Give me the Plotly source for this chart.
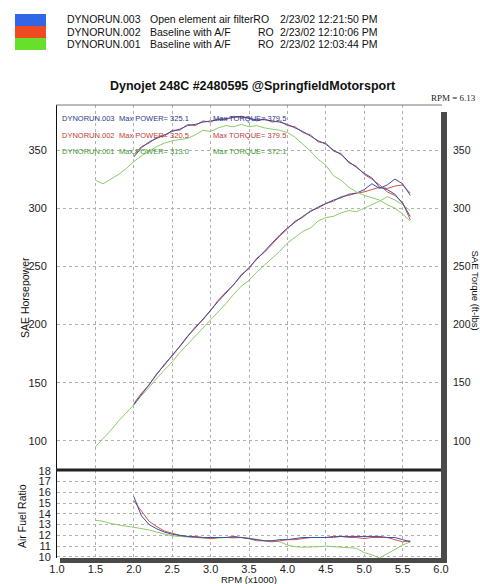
import plotly.graph_objects as go

# ---------------- data ----------------
rpm_br = [2.0, 2.1, 2.2, 2.3, 2.4, 2.5, 2.6, 2.7, 2.8, 2.9, 3.0, 3.1, 3.2, 3.3, 3.4, 3.5, 3.6, 3.7, 3.8,
          3.9, 4.0, 4.1, 4.2, 4.3, 4.4, 4.5, 4.6, 4.7, 4.8, 4.9, 5.0, 5.1, 5.2, 5.3, 5.4, 5.5, 5.6]
rpm_g = [1.5, 1.6, 1.7, 1.8, 1.9] + rpm_br

hp_003 = [131, 140, 149, 157, 166, 173, 182, 190, 197, 205, 213, 220, 227, 235, 242, 249, 256, 263, 270,
          277, 283, 288, 293, 297, 301, 304, 307, 309, 312, 313, 316, 321, 317, 320, 325, 321, 311]
hp_002 = [132, 141, 148, 158, 165, 174, 181, 189, 198, 204, 212, 221, 228, 234, 243, 248, 257, 262, 269,
          276, 282, 289, 292, 298, 300, 304, 306, 310, 311, 313, 314, 316, 318, 317, 319, 320, 313]
hp_001 = [95, 102, 109, 117, 124, 131, 139, 146, 154, 161, 168, 176, 183, 190, 197, 204, 211, 218, 226,
          233, 238, 245, 251, 257, 263, 270, 275, 280, 283, 289, 292, 293, 296, 298, 297, 300, 303,
          306, 310, 307, 303, 298]

tq_003 = [344, 352, 357, 360, 363, 366, 368, 371, 372, 374, 375, 376, 377, 378, 379, 377, 376, 376, 375,
          374, 372, 369, 366, 362, 358, 355, 350, 346, 340, 335, 330, 326, 318, 316, 312, 304, 293]
tq_002 = [346, 353, 356, 361, 362, 367, 367, 372, 371, 375, 374, 377, 376, 379, 378, 378, 375, 377, 374,
          375, 371, 370, 365, 363, 357, 356, 349, 347, 339, 336, 329, 325, 320, 314, 311, 305, 290]
tq_001 = [324, 321, 325, 329, 334, 340, 345, 349, 353, 356, 358, 359, 360, 363, 367, 366, 369, 371, 370,
          372, 370, 371, 369, 368, 367, 365, 361, 355, 349, 342, 337, 328, 324, 318, 314, 311, 309,
          307, 303, 300, 295, 289]

afr_003 = [15.6, 13.8, 13.0, 12.6, 12.3, 12.1, 12.0, 11.9, 11.9, 11.8, 11.8, 11.8, 11.8, 11.9, 11.8,
           11.7, 11.6, 11.5, 11.5, 11.6, 11.6, 11.7, 11.8, 11.8, 11.8, 11.8, 11.9, 11.9, 11.9, 11.9,
           11.9, 11.9, 11.9, 11.8, 11.8, 11.6, 11.4]
afr_002 = [15.2, 14.3, 13.3, 12.8, 12.4, 12.2, 12.0, 11.9, 11.8, 11.8, 11.7, 11.8, 11.8, 11.8, 11.8,
           11.7, 11.5, 11.5, 11.4, 11.5, 11.6, 11.6, 11.7, 11.8, 11.8, 11.8, 11.8, 11.9, 11.8, 11.8,
           11.7, 11.8, 11.8, 11.8, 11.6, 11.4, 11.5]
afr_001 = [13.4, 13.3, 13.1, 12.95, 12.85, 12.75, 12.65, 12.5, 12.3, 12.1, 11.95, 11.9, 11.85, 11.8,
           11.75, 11.7, 11.75, 11.8, 11.75, 11.8, 11.75, 11.6, 11.5, 11.5, 11.4, 11.1, 10.95, 10.9,
           10.9, 10.95, 11.0, 10.95, 10.9, 10.85, 10.8, 10.4, 10.2, 9.9, 10.3, 10.7, 11.1, 11.4]

hp_ticks = [100, 150, 200, 250, 300, 350]
afr_ticks = [10, 11, 12, 13, 14, 15, 16, 17, 18]
rpm_ticks = [1.0, 1.5, 2.0, 2.5, 3.0, 3.5, 4.0, 4.5, 5.0, 5.5, 6.0]

runs = [
    ("DYNORUN.003", "Open element air filterRO", "", "2/23/02 12:21:50 PM", "325.1", "379.5"),
    ("DYNORUN.002", "Baseline with A/F", "RO", "2/23/02 12:10:06 PM", "320.5", "379.5"),
    ("DYNORUN.001", "Baseline with A/F", "RO", "2/23/02 12:03:44 PM", "313.0", "372.1"),
]

# ---------------- styling ----------------
W, H = 480, 584
line_cols = ["#3b4fa6", "#d4504a", "#8ccc6a"]
text_cols = ["#2a3a8c", "#c23a36", "#3f9a2f"]
swatch_cols = ["#3366e6", "#f04a22", "#66e02a"]
FONT = "Liberation Sans, Arial, sans-serif"

def px(x):
    return x / W

def py(y):
    return 1 - y / H

X0, X1 = 57, 441
UP_T, DIV, LO_B = 105, 470, 558

fig = go.Figure()

series = [(rpm_br, hp_003, tq_003, afr_003), (rpm_br, hp_002, tq_002, afr_002), (rpm_g, hp_001, tq_001, afr_001)]
for i in [2, 1, 0]:
    r, hp, tq, af = series[i]
    c = line_cols[i]
    fig.add_trace(go.Scatter(x=r, y=hp, mode="lines", line=dict(color=c, width=1), xaxis="x2", yaxis="y", showlegend=False))
    fig.add_trace(go.Scatter(x=r, y=tq, mode="lines", line=dict(color=c, width=1), xaxis="x2", yaxis="y3", showlegend=False))
    fig.add_trace(go.Scatter(x=r, y=af, mode="lines", line=dict(color=c, width=1), xaxis="x", yaxis="y2", showlegend=False))

grid = dict(showgrid=True, gridcolor="#b0b0b0", griddash="dot", gridwidth=1)
tickfont = dict(family=FONT, size=11, color="#222")

up_range = [75, 388.7]
fig.update_layout(
    width=W, height=H, margin=dict(l=0, r=0, t=0, b=0, autoexpand=False),
    paper_bgcolor="white", plot_bgcolor="white",
    xaxis=dict(domain=[px(X0), px(X1)], range=[1.0, 6.0], anchor="y2", tickvals=rpm_ticks,
               ticktext=[f"{v:.1f}" for v in rpm_ticks], tickfont=tickfont, ticks="",
               ticklabelstandoff=3, zeroline=False, showline=False, automargin=False, **grid),
    xaxis2=dict(domain=[px(X0), px(X1)], matches="x", anchor="y", showticklabels=False, ticks="",
                zeroline=False, showline=False, tickvals=rpm_ticks, automargin=False, **grid),
    yaxis=dict(domain=[py(DIV), py(UP_T)], range=up_range, anchor="x2", tickvals=hp_ticks,
               tickfont=tickfont, ticks="", ticklabelstandoff=7, zeroline=False, automargin=False,
               showline=True, linecolor="#111", linewidth=1, **grid),
    yaxis3=dict(overlaying="y", side="right", range=up_range, anchor="x2", tickvals=hp_ticks,
                tickfont=dict(family=FONT, size=10.5, color="#222"), ticks="", ticklabelstandoff=11,
                zeroline=False, showgrid=False, showline=False, automargin=False),
    yaxis2=dict(domain=[py(LO_B), py(DIV)], range=[9.9, 18.06], anchor="x", tickvals=afr_ticks,
                tickfont=tickfont, ticks="", ticklabelstandoff=3, zeroline=False, automargin=False,
                showline=True, linecolor="#111", linewidth=1, **grid),
)

shapes = []
shapes.append(dict(type="line", xref="paper", yref="paper", x0=px(56), x1=px(442), y0=py(UP_T), y1=py(UP_T),
                   line=dict(color="#777", width=1)))
shapes.append(dict(type="line", xref="paper", yref="paper", x0=px(56), x1=px(441), y0=py(DIV), y1=py(DIV),
                   line=dict(color="#222", width=3)))
shapes.append(dict(type="rect", xref="paper", yref="paper", x0=px(441), x1=px(447), y0=py(562), y1=py(112),
                   fillcolor="#4a4a4a", line=dict(width=0)))
shapes.append(dict(type="rect", xref="paper", yref="paper", x0=px(60), x1=px(447), y0=py(563), y1=py(LO_B),
                   fillcolor="#4a4a4a", line=dict(width=0)))
for k, c in enumerate(swatch_cols):
    shapes.append(dict(type="rect", xref="paper", yref="paper", x0=px(15), x1=px(46),
                       y0=py(14 + 12 * k + 12), y1=py(14 + 12 * k), fillcolor=c, line=dict(width=0)))
fig.update_layout(shapes=shapes)

ann = []
def add(text, x, y, size, color="#111", xanchor="left", family=FONT, angle=0):
    ann.append(dict(text=text, x=px(x), y=py(y), xref="paper", yref="paper", xanchor=xanchor,
                    yanchor="middle", showarrow=False, textangle=angle,
                    font=dict(family=family, size=size, color=color)))

for k, (name, desc, ro, date, mp, mt) in enumerate(runs):
    yy = 19 + 12.5 * k
    add(name, 65, yy, 10.5)
    add(desc, 148, yy, 10.5)
    if ro:
        add(ro, 256, yy, 10.5)
    add(date, 278, yy, 10.5)
    yi = [119, 135, 152][k]
    add(name, 60, yi, 7.5, text_cols[k])
    add("Max POWER= " + mp, 117, yi, 7.5, text_cols[k])
    add("Max TORQUE= " + mt, 211, yi, 7.5, text_cols[k])

add("<b>Dynojet 248C #2480595 @SpringfieldMotorsport</b>", 253, 86, 12.5, "#111", xanchor="center")
add("RPM = 6.13", 478, 98, 9, "#222", xanchor="right", family="Liberation Serif, Times New Roman, serif")
add("SAE Horsepower", 25, 298, 10.5, "#111", xanchor="center", angle=-90)
add("SAE Torque (ft-lbs)", 475.5, 290, 9.5, "#111", xanchor="center", angle=90)
add("Air Fuel Ratio", 22, 516, 10.5, "#111", xanchor="center", angle=-90)
add("RPM (x1000)", 249, 579, 9.5, "#111", xanchor="center")
fig.update_layout(annotations=ann)

fig.write_html("out.html", config={"displayModeBar": False},
               post_script="document.body.style.margin='0';")
